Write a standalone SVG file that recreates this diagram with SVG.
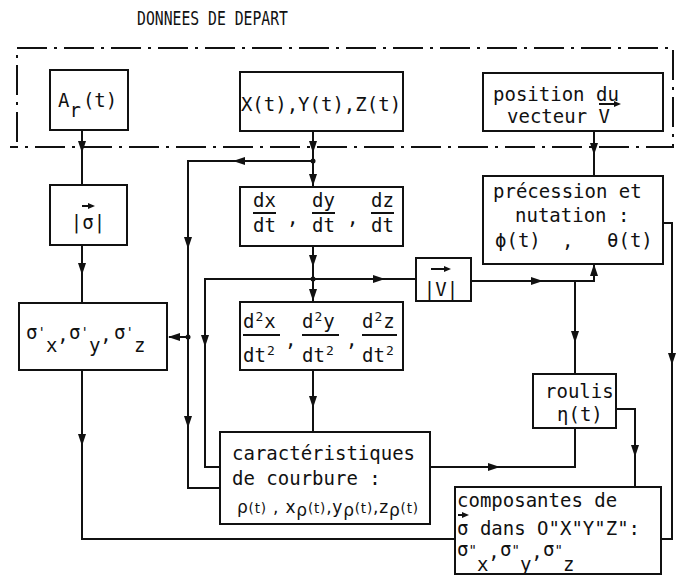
<svg xmlns="http://www.w3.org/2000/svg" xmlns:xlink="http://www.w3.org/1999/xlink" width="684" height="585" viewBox="0 0 684 585">
<style>
.bx{fill:#fff;stroke:#111;stroke-width:2}
.ln{fill:none;stroke:#111;stroke-width:2}
.t{font-family:"DejaVu Sans Mono","Liberation Mono",monospace;font-size:19px;fill:#111}
.s{font-family:"DejaVu Sans","Liberation Sans",sans-serif;fill:#111}
.dd{fill:none;stroke:#111;stroke-width:2;stroke-dasharray:30 7 3 7}
.sup{font-size:13px}
.pr{font-size:14px}
</style>
<defs>
<path id="aD" d="M0,0 L-4,-12 L4,-12 Z" fill="#111"/>
<path id="aU" d="M0,0 L-4,12 L4,12 Z" fill="#111"/>
<path id="aL" d="M0,0 L12,-4 L12,4 Z" fill="#111"/>
<path id="aR" d="M0,0 L-12,-4 L-12,4 Z" fill="#111"/>
<path id="vR" d="M0,0 L-7,-3 L-7,3 Z" fill="#111"/>
</defs>
<rect width="684" height="585" fill="#fff"/>

<g id="n-donnees">
<text class="t" x="137" y="25" font-size="23" textLength="151" lengthAdjust="spacingAndGlyphs">DONNEES DE DEPART</text>
<path class="dd" d="M17,142 V48 H673 V147 H10"/>
</g>

<g id="connectors">
<path class="ln" d="M82,130 V185"/>
<use xlink:href="#aD" x="82" y="153"/>
<path class="ln" d="M82,245 V303"/>
<use xlink:href="#aD" x="82" y="275"/>
<path class="ln" d="M82,370 V539 H455"/>
<use xlink:href="#aD" x="82" y="446"/>

<path class="ln" d="M313,131 V187"/>
<use xlink:href="#aD" x="313" y="153"/>
<use xlink:href="#aD" x="313" y="186"/>
<circle cx="313" cy="161" r="2.5" fill="#111"/>
<path class="ln" d="M313,161 H188 V488 H220"/>
<use xlink:href="#aL" x="233" y="161"/>
<use xlink:href="#aD" x="188" y="249"/>
<use xlink:href="#aD" x="188" y="428"/>
<circle cx="188" cy="337" r="2.5" fill="#111"/>
<path class="ln" d="M188,337 H169"/>
<use xlink:href="#aL" x="168" y="337"/>

<path class="ln" d="M313,246 V302"/>
<use xlink:href="#aD" x="313" y="267"/>
<use xlink:href="#aD" x="313" y="301"/>
<circle cx="313" cy="279" r="2.5" fill="#111"/>
<path class="ln" d="M416,279 H205 V467 H220"/>
<use xlink:href="#aR" x="385" y="279"/>
<use xlink:href="#aD" x="205" y="347"/>

<path class="ln" d="M313,370 V432"/>
<use xlink:href="#aD" x="313" y="408"/>

<path class="ln" d="M430,467 H575 V428"/>
<use xlink:href="#aR" x="500" y="467"/>

<path class="ln" d="M471,281 H594 V265"/>
<use xlink:href="#aR" x="543" y="281"/>
<use xlink:href="#aU" x="594" y="264"/>
<path class="ln" d="M575,281 V374"/>
<use xlink:href="#aD" x="575" y="343"/>

<path class="ln" d="M594,131 V176"/>
<use xlink:href="#aD" x="594" y="155"/>

<path class="ln" d="M663,223 H672 V539 H661"/>
<use xlink:href="#aD" x="672" y="365"/>

<path class="ln" d="M616,409 H635 V487"/>
<use xlink:href="#aD" x="635" y="457"/>
</g>

<g id="n-ar">
<rect class="bx" x="50" y="70" width="78" height="60"/>
<text class="t" x="58" y="107">A<tspan dy="10">r</tspan><tspan dx="2" dy="-10">(t)</tspan></text>
</g>

<g id="n-xyz">
<rect class="bx" x="240" y="72" width="163" height="59"/>
<text class="t" x="321" y="111" text-anchor="middle">X(t),Y(t),Z(t)</text>
</g>

<g id="n-pos">
<rect class="bx" x="483" y="73" width="180" height="58"/>
<text class="t" x="493" y="101">position du</text>
<text class="t" x="507" y="123">vecteur V</text>
<path class="ln" d="M599,104 H615" stroke-width="1.8"/>
<use xlink:href="#vR" x="621" y="104"/>
</g>

<g id="n-sigma">
<rect class="bx" x="50" y="185" width="77" height="60"/>
<text class="t" x="88" y="229" text-anchor="middle">|σ|</text>
<path class="ln" d="M82,206 H89" stroke-width="1.5"/>
<use xlink:href="#vR" x="95" y="206"/>
</g>

<g id="n-sigmap">
<rect class="bx" x="19" y="303" width="148" height="67"/>
<text class="t" x="26" y="339">σ<tspan class="pr" dy="-2">'</tspan><tspan dy="15">x</tspan><tspan dy="-11">,</tspan></text>
<text class="t" x="69" y="339">σ<tspan class="pr" dy="-2">'</tspan><tspan dy="15">y</tspan><tspan dy="-11">,</tspan></text>
<text class="t" x="114" y="339">σ<tspan class="pr" dy="-2">'</tspan><tspan dy="15">z</tspan></text>
</g>

<g id="n-dxdt">
<rect class="bx" x="240" y="187" width="163" height="59"/>
<text class="t" x="253" y="207">dx</text>
<path class="ln" d="M253,213 H276" stroke-width="1.5"/>
<text class="t" x="253" y="232">dt</text>
<text class="t" x="287" y="224">,</text>
<text class="t" x="312" y="207">dy</text>
<path class="ln" d="M312,213 H335" stroke-width="1.5"/>
<text class="t" x="312" y="232">dt</text>
<text class="t" x="347" y="224">,</text>
<text class="t" x="371" y="207">dz</text>
<path class="ln" d="M371,213 H394" stroke-width="1.5"/>
<text class="t" x="371" y="232">dt</text>
</g>

<g id="n-d2">
<rect class="bx" x="240" y="302" width="163" height="68"/>
<text class="t" x="243" y="328">d<tspan class="sup" dx="1" dy="-7">2</tspan><tspan dx="1" dy="7">x</tspan></text>
<path class="ln" d="M243,335 H280" stroke-width="1.5"/>
<text class="t" x="243" y="362">dt<tspan class="sup" dx="1" dy="-7">2</tspan></text>
<text class="t" x="285" y="346">,</text>
<text class="t" x="302" y="328">d<tspan class="sup" dx="1" dy="-7">2</tspan><tspan dx="1" dy="7">y</tspan></text>
<path class="ln" d="M302,335 H339" stroke-width="1.5"/>
<text class="t" x="302" y="362">dt<tspan class="sup" dx="1" dy="-7">2</tspan></text>
<text class="t" x="346" y="346">,</text>
<text class="t" x="362" y="328">d<tspan class="sup" dx="1" dy="-7">2</tspan><tspan dx="1" dy="7">z</tspan></text>
<path class="ln" d="M362,335 H397" stroke-width="1.5"/>
<text class="t" x="362" y="362">dt<tspan class="sup" dx="1" dy="-7">2</tspan></text>
</g>

<g id="n-v">
<rect class="bx" x="416" y="258" width="55" height="43"/>
<text class="t" x="441" y="296" text-anchor="middle">|V|</text>
<path class="ln" d="M431,269 H445" stroke-width="1.8"/>
<use xlink:href="#vR" x="451" y="269"/>
</g>

<g id="n-prec">
<rect class="bx" x="483" y="176" width="180" height="88"/>
<text class="t" x="493" y="198">précession et</text>
<text class="t" x="515" y="222">nutation :</text>
<text class="t" x="495" y="247">ϕ(t)</text>
<text class="t" x="562" y="247">,</text>
<text class="t" x="607" y="247">θ(t)</text>
</g>

<g id="n-roulis">
<rect class="bx" x="533" y="374" width="83" height="54"/>
<text class="t" x="545" y="398">roulis</text>
<text class="t" x="557" y="421">η(t)</text>
</g>

<g id="n-caract">
<rect class="bx" x="220" y="432" width="210" height="92"/>
<text class="t" x="232" y="460">caractéristiques</text>
<text class="t" x="232" y="485">de courbure :</text>
<text class="s" x="237" y="513" font-size="17" textLength="181">ρ<tspan font-size="13.5">(t)</tspan> , x<tspan dy="3">ρ</tspan><tspan font-size="13.5" dy="-3">(t)</tspan>,y<tspan dy="3">ρ</tspan><tspan font-size="13.5" dy="-3">(t)</tspan>,z<tspan dy="3">ρ</tspan><tspan font-size="13.5" dy="-3">(t)</tspan></text>
</g>

<g id="n-comp">
<rect class="bx" x="455" y="487" width="206" height="87"/>
<text class="t" x="457" y="507">composantes de</text>
<text class="t" x="457" y="535">σ dans O"X"Y"Z":</text>
<path class="ln" d="M458,515 H464" stroke-width="1.5"/>
<use xlink:href="#vR" x="469" y="515"/>
<text class="t" x="457" y="556">σ<tspan class="pr" dy="-1">"</tspan><tspan dy="16">x</tspan><tspan dy="-13">,</tspan></text>
<text class="t" x="500" y="556">σ<tspan class="pr" dy="-1">"</tspan><tspan dy="16">y</tspan><tspan dy="-13">,</tspan></text>
<text class="t" x="543" y="556">σ<tspan class="pr" dy="-1">"</tspan><tspan dy="16">z</tspan></text>
</g>
</svg>
